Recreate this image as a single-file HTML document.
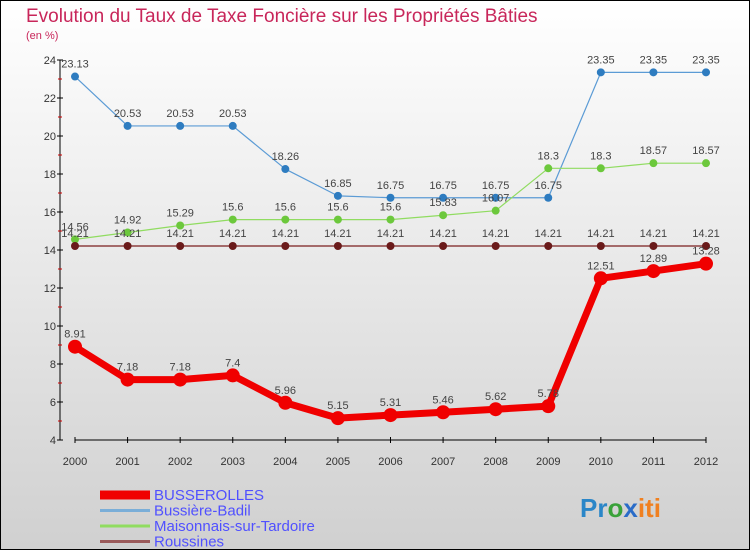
<!DOCTYPE html>
<html><head><meta charset="utf-8"><style>
body{margin:0;}
#wrap{position:relative;width:750px;height:550px;}
svg text{font-family:"Liberation Sans",sans-serif;}
</style></head><body>
<div id="wrap">
<svg id="chart" width="750" height="550" xmlns="http://www.w3.org/2000/svg">
<defs><linearGradient id="bg" x1="0" y1="0" x2="0" y2="1"><stop offset="0" stop-color="#ffffff"/><stop offset="1" stop-color="#d0d0d0"/></linearGradient></defs>
<rect x="0.5" y="0.5" width="749" height="549" fill="url(#bg)" stroke="#000"/>
<text x="26" y="22" font-size="19" fill="#c8265a">Evolution du Taux de Taxe Foncière sur les Propriétés Bâties</text>
<text x="26" y="39" font-size="11" fill="#c8265a">(en %)</text>
<g id="axes"></g>
<g id="series"></g>
<g id="legend"></g>
<text x="580" y="517" font-size="26" font-weight="bold"><tspan fill="#2a86c8">Pr</tspan><tspan fill="#3aa23a">o</tspan><tspan fill="#2a6cc8">x</tspan><tspan fill="#f08020">iti</tspan></text>
</svg>
</div>
<script>
const years=[2000,2001,2002,2003,2004,2005,2006,2007,2008,2009,2010,2011,2012];
const yTicks=[4,6,8,10,12,14,16,18,20,22,24];
const busserolles=[8.91,7.18,7.18,7.4,5.96,5.15,5.31,5.46,5.62,5.78,12.51,12.89,13.28];
const bussiere=[23.13,20.53,20.53,20.53,18.26,16.85,16.75,16.75,16.75,16.75,23.35,23.35,23.35];
const maisonnais=[14.56,14.92,15.29,15.6,15.6,15.6,15.6,15.83,16.07,18.3,18.3,18.57,18.57];
const roussines=[14.21,14.21,14.21,14.21,14.21,14.21,14.21,14.21,14.21,14.21,14.21,14.21,14.21];
const seriesNames=["BUSSEROLLES","Bussière-Badil","Maisonnais-sur-Tardoire","Roussines"];
const NS="http://www.w3.org/2000/svg";
const x=i=>75+i*(706-75)/(years.length-1);
const y=v=>440-(v-4)*19;
function mk(tag,attrs,parent){const e=document.createElementNS(NS,tag);for(const k in attrs)e.setAttribute(k,attrs[k]);parent.appendChild(e);return e;}
const axes=document.getElementById('axes');
let a=mk('line',{x1:x(0),y1:y(4),x2:x(12),y2:y(4),stroke:'#000'},axes);


a=mk('line',{x1:60,y1:y(4),x2:60,y2:y(24),stroke:'#000'},axes);


yTicks.forEach(t=>{
  mk('line',{x1:57,y1:y(t),x2:63,y2:y(t),stroke:'#000'},axes);
  if(t<24) mk('line',{x1:58,y1:y(t+1),x2:62,y2:y(t+1),stroke:'#c00'},axes);
  const tx=mk('text',{x:56,y:y(t)+4,'font-size':11,'text-anchor':'end',fill:'#333'},axes);
  tx.textContent=t;
  
  
});
years.forEach((yr,i)=>{
  mk('line',{x1:x(i),y1:y(4)-3,x2:x(i),y2:y(4)+3,stroke:'#000'},axes);
  const tx=mk('text',{x:x(i),y:465,'font-size':11,'text-anchor':'middle',fill:'#333'},axes);
  tx.textContent=yr;
  
  
});
const sg=document.getElementById('series');
const defs=[[bussiere,'#5b9bd5','#2e7cc0',1.2,4],[maisonnais,'#90dc60','#6cc83c',1.2,4],[roussines,'#7a1f1f','#6a1a1a',1.2,4],[busserolles,'#f00000','#f00000',7,7]];
const names=['series-bussiere-badil','series-maisonnais','series-roussines','series-busserolles'];
defs.forEach((d,si)=>{
  const [vals,lc,pc,w,r]=d;
  const g=mk('g',{},sg);
  
  
  const p=mk('polyline',{points:vals.map((v,i)=>x(i)+','+y(v)).join(' '),fill:'none',stroke:lc,'stroke-width':w,'stroke-linejoin':'round'},g);
  
  
  vals.forEach((v,i)=>{
    const c=mk('circle',{cx:x(i),cy:y(v),r:r,fill:pc},g);
    
    
    const t=mk('text',{x:x(i),y:y(v)-9,'font-size':11,'text-anchor':'middle',fill:'#444'},g);
    t.textContent=v;
    
    
  });
});
const lg=document.getElementById('legend');
const lcol=['#f00000','#7aaed8','#90dc60','#9a5a5a'];
const lw=[9,3,3,3];
seriesNames.forEach((n,i)=>{
  const yy=500+i*15.5;
  const l=mk('line',{x1:100,y1:yy-5,x2:150,y2:yy-5,stroke:lcol[i],'stroke-width':lw[i]},lg);
  
  
  const t=mk('text',{x:154,y:yy,'font-size':15,fill:'#5050ff'},lg);
  t.textContent=n;
  
  
});
</script>
</body></html>
